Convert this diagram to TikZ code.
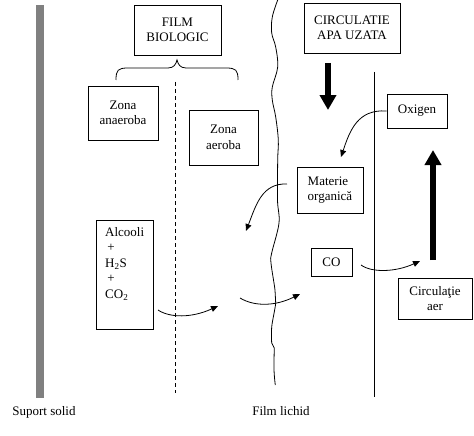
\documentclass[tikz,border=0pt]{standalone}
\usepackage{fontspec}
\setmainfont{Liberation Serif}
\usetikzlibrary{arrows.meta}
\begin{document}
\begin{tikzpicture}[x=1pt,y=-1pt,
  lbl/.style={font=\fontsize{13}{15.5}\selectfont, inner sep=0pt},
  box/.style={lbl, draw, line width=0.8pt, align=center},
  thin/.style={line width=0.8pt},
  tip/.style={thin, -{Triangle[length=7pt,width=6pt]}},
  bigarrow/.style={line width=5.5pt, -{Triangle[length=15pt,width=16pt]}}]
\useasboundingbox (0,0) rectangle (474,436);
% solid support
\fill[gray] (36,5) rectangle (44,398);
% dashed boundary
\draw[thin, dash pattern=on 4pt off 3pt] (175,82) -- (175,393);
% solid boundary
\draw[thin] (374.5,72) -- (374.5,397);
% wavy liquid film boundary
\draw[thin] plot[smooth, tension=0.6] coordinates {
 (277.7,0) (272.3,17) (271.7,33) (275.7,47) (277.7,67) (272.3,87) (272.3,100)
 (275.7,117) (278.3,140) (277.7,160) (277.5,200) (279,223) (271.7,253) (271,263)
 (275,290) (275.7,303) (271.7,327) (271.7,343)};
\draw[thin] (271.7,343) -- (274.3,348) plot[smooth, tension=0.6] coordinates {(274.3,348) (274,370) (275.3,385)};
% brace
\draw[thin] (116,80) .. controls (116,70) and (118,68) .. (128,68) -- (168,68)
  .. controls (174,68) and (176,64) .. (177,60)
  .. controls (178,64) and (180,68) .. (186,68) -- (226,68)
  .. controls (236,68) and (238,70) .. (238,80);
% boxes
\node[box, minimum width=87, minimum height=50] (film) at (177.5,30) {FILM\\BIOLOGIC};
\node[box, minimum width=96, minimum height=50] (circ) at (352,28) {CIRCULATIE\\APA UZATA};
\node[box, minimum width=60, minimum height=34] (oxi) at (417,111) {Oxigen};
\node[box, minimum width=70, minimum height=54] (zan) at (123,113) {Zona\\anaeroba};
\node[box, minimum width=69, minimum height=55] (zaer) at (223.5,137.5) {Zona\\aeroba};
\node[box, minimum width=66, minimum height=46, align=left] (mat) at (330,190) {Materie\\organică};
\node[box, minimum width=57, minimum height=109, anchor=north west] (alc) at (96,220) {};
\node[lbl, align=left, anchor=north west] (alct) at (105,227) {Alcooli\\\,+\\H\textsubscript{2}S\\\,+\\CO\textsubscript{2}};
\node[box, minimum width=41, minimum height=28] (co) at (331.5,262) {CO};
\node[box, minimum width=74, minimum height=41] (caer) at (435,298.5) {Circulaţie\\aer};
% labels
\node[lbl] (sup) at (44,412) {Suport solid};
\node[lbl] (fl) at (281,411) {Film lichid};
% coordinates
\coordinate (dn1) at (328,63);
\coordinate (dn2) at (328,110);
\coordinate (up1) at (433,260);
\coordinate (up2) at (433,150);
\coordinate (m1) at (341,157);
\coordinate (s2) at (287,184);
\coordinate (e2) at (246,231);
\coordinate (s3) at (158,310);
\coordinate (e3) at (218,306);
\coordinate (s4) at (240,298);
\coordinate (e4) at (300,294);
\coordinate (s5) at (361,265);
\coordinate (e5) at (420,261);
% thick arrows
\draw[bigarrow] (dn1) -- (dn2);
\draw[bigarrow] (up1) -- (up2);
% thin curved arrows
\draw[tip] (oxi.west) .. controls (358,109) and (350,130) .. (m1);
\draw[tip] (s2) .. controls (262,183) and (256,205) .. (e2);
\draw[tip] (s3) .. controls (170,318) and (192,318) .. (e3);
\draw[tip] (s4) .. controls (255,307) and (276,306) .. (e4);
\draw[tip] (s5) .. controls (372,273) and (396,272) .. (e5);
\end{tikzpicture}
\end{document}
